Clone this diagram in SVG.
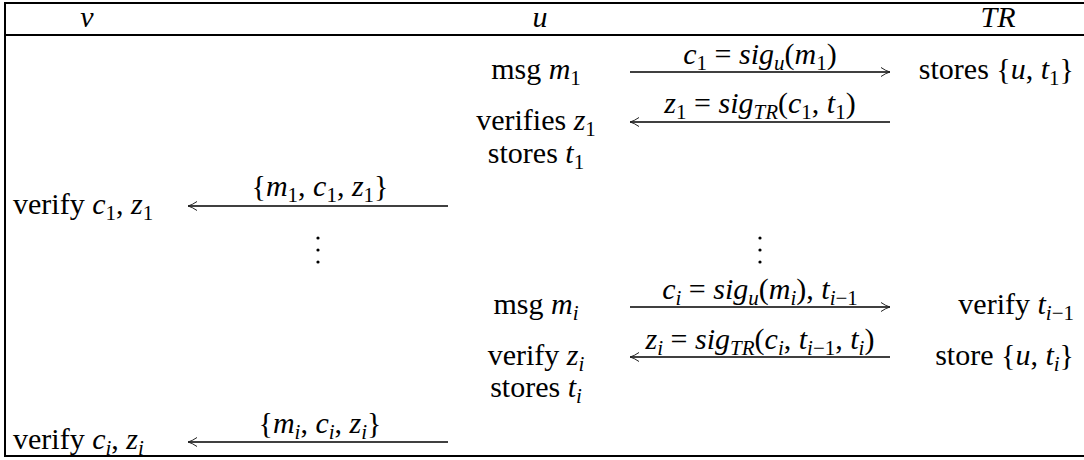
<svg xmlns="http://www.w3.org/2000/svg" width="1084" height="460" viewBox="0 0 1084 460">
<style>
text{font-family:'Liberation Serif','DejaVu Serif',serif;font-size:30px;fill:#000}
.i{font-style:italic}
.s{font-size:21px}
.m{text-anchor:middle}
.e{text-anchor:end}
.rule{stroke:#000;stroke-width:2;fill:none}
.arr{stroke:#000;stroke-width:1.3;fill:none;marker-end:url(#ah)}
.dot{fill:#000}
</style>
<defs>
<marker id="ah" markerUnits="userSpaceOnUse" markerWidth="14" markerHeight="14" viewBox="-12 -7 14 14" refX="0" refY="0" orient="auto" overflow="visible">
<path d="M-9,-4.5 Q-4,-1 0,0 Q-4,1 -9,4.5" fill="none" stroke="#222" stroke-width="1"/>
</marker>
</defs>

<g id="table-frame">
<line class="rule" x1="4" y1="3" x2="1084" y2="3"/>
<line class="rule" x1="4" y1="35" x2="1084" y2="35"/>
<line class="rule" x1="4" y1="456" x2="1084" y2="456"/>
<line class="rule" x1="5" y1="2" x2="5" y2="457"/>
</g>

<g id="header">
<text class="i m" x="87" y="27">v</text>
<text class="i m" x="540" y="27">u</text>
<text class="i m" x="998" y="27">TR</text>
</g>

<g id="connectors">
<line class="arr" x1="630" y1="72" x2="890" y2="72"/>
<line class="arr" x1="890" y1="122" x2="630" y2="122"/>
<line class="arr" x1="448" y1="206" x2="188" y2="206"/>
<line class="arr" x1="630" y1="307" x2="890" y2="307"/>
<line class="arr" x1="890" y1="357" x2="630" y2="357"/>
<line class="arr" x1="448" y1="442" x2="188" y2="442"/>
</g>

<g id="label-c1">
<text class="m" x="760" y="64"><tspan class="i">c</tspan><tspan class="s" dy="6">1</tspan><tspan dy="-6"> = </tspan><tspan class="i">sig</tspan><tspan class="s i" dy="6">u</tspan><tspan dy="-6">(</tspan><tspan class="i">m</tspan><tspan class="s" dy="6">1</tspan><tspan dy="-6">)</tspan></text>
</g>
<g id="label-z1">
<text class="m" x="760" y="113"><tspan class="i">z</tspan><tspan class="s" dy="6">1</tspan><tspan dy="-6"> = </tspan><tspan class="i">sig</tspan><tspan class="s i" dy="6">TR</tspan><tspan dy="-6">(</tspan><tspan class="i">c</tspan><tspan class="s" dy="6">1</tspan><tspan dy="-6">, </tspan><tspan class="i">t</tspan><tspan class="s" dy="6">1</tspan><tspan dy="-6">)</tspan></text>
</g>
<g id="label-m1c1z1">
<text class="m" x="320" y="196">{<tspan class="i">m</tspan><tspan class="s" dy="6">1</tspan><tspan dy="-6">, </tspan><tspan class="i">c</tspan><tspan class="s" dy="6">1</tspan><tspan dy="-6">, </tspan><tspan class="i">z</tspan><tspan class="s" dy="6">1</tspan><tspan dy="-6">}</tspan></text>
</g>
<g id="label-ci">
<text class="m" x="760" y="299"><tspan class="i">c</tspan><tspan class="s i" dy="6">i</tspan><tspan dy="-6"> = </tspan><tspan class="i">sig</tspan><tspan class="s i" dy="6">u</tspan><tspan dy="-6">(</tspan><tspan class="i">m</tspan><tspan class="s i" dy="6">i</tspan><tspan dy="-6">), </tspan><tspan class="i">t</tspan><tspan class="s" dy="6"><tspan class="i">i</tspan>−1</tspan></text>
</g>
<g id="label-zi">
<text class="m" x="760" y="349"><tspan class="i">z</tspan><tspan class="s i" dy="6">i</tspan><tspan dy="-6"> = </tspan><tspan class="i">sig</tspan><tspan class="s i" dy="6">TR</tspan><tspan dy="-6">(</tspan><tspan class="i">c</tspan><tspan class="s i" dy="6">i</tspan><tspan dy="-6">, </tspan><tspan class="i">t</tspan><tspan class="s" dy="6"><tspan class="i">i</tspan>−1</tspan><tspan dy="-6">, </tspan><tspan class="i">t</tspan><tspan class="s i" dy="6">i</tspan><tspan dy="-6">)</tspan></text>
</g>
<g id="label-micizi">
<text class="m" x="320" y="433">{<tspan class="i">m</tspan><tspan class="s i" dy="6">i</tspan><tspan dy="-6">, </tspan><tspan class="i">c</tspan><tspan class="s i" dy="6">i</tspan><tspan dy="-6">, </tspan><tspan class="i">z</tspan><tspan class="s i" dy="6">i</tspan><tspan dy="-6">}</tspan></text>
</g>

<g id="u-msg-m1"><text class="m" x="536" y="79">msg <tspan class="i">m</tspan><tspan class="s" dy="6">1</tspan></text></g>
<g id="u-verifies-z1"><text class="m" x="536" y="130">verifies <tspan class="i">z</tspan><tspan class="s" dy="6">1</tspan></text></g>
<g id="u-stores-t1"><text class="m" x="536" y="163">stores <tspan class="i">t</tspan><tspan class="s" dy="6">1</tspan></text></g>
<g id="tr-stores-u-t1"><text class="e" x="1074" y="79">stores {<tspan class="i">u</tspan>, <tspan class="i">t</tspan><tspan class="s" dy="6">1</tspan><tspan dy="-6">}</tspan></text></g>
<g id="v-verify-c1-z1"><text x="13" y="214">verify <tspan class="i">c</tspan><tspan class="s" dy="6">1</tspan><tspan dy="-6">, </tspan><tspan class="i">z</tspan><tspan class="s" dy="6">1</tspan></text></g>

<g id="vdots-v">
<circle class="dot" cx="318" cy="238" r="1.6"/>
<circle class="dot" cx="318" cy="250" r="1.6"/>
<circle class="dot" cx="318" cy="262" r="1.6"/>
</g>
<g id="vdots-u">
<circle class="dot" cx="760" cy="238" r="1.6"/>
<circle class="dot" cx="760" cy="250" r="1.6"/>
<circle class="dot" cx="760" cy="262" r="1.6"/>
</g>

<g id="u-msg-mi"><text class="m" x="536" y="314">msg <tspan class="i">m</tspan><tspan class="s i" dy="6">i</tspan></text></g>
<g id="u-verify-zi"><text class="m" x="536" y="365">verify <tspan class="i">z</tspan><tspan class="s i" dy="6">i</tspan></text></g>
<g id="u-stores-ti"><text class="m" x="536" y="397">stores <tspan class="i">t</tspan><tspan class="s i" dy="6">i</tspan></text></g>
<g id="tr-verify-ti-1"><text class="e" x="1074" y="314">verify <tspan class="i">t</tspan><tspan class="s" dy="6"><tspan class="i">i</tspan>−1</tspan></text></g>
<g id="tr-store-u-ti"><text class="e" x="1074" y="365">store {<tspan class="i">u</tspan>, <tspan class="i">t</tspan><tspan class="s i" dy="6">i</tspan><tspan dy="-6">}</tspan></text></g>
<g id="v-verify-ci-zi"><text x="13" y="449">verify <tspan class="i">c</tspan><tspan class="s i" dy="6">i</tspan><tspan dy="-6">, </tspan><tspan class="i">z</tspan><tspan class="s i" dy="6">i</tspan></text></g>
</svg>
